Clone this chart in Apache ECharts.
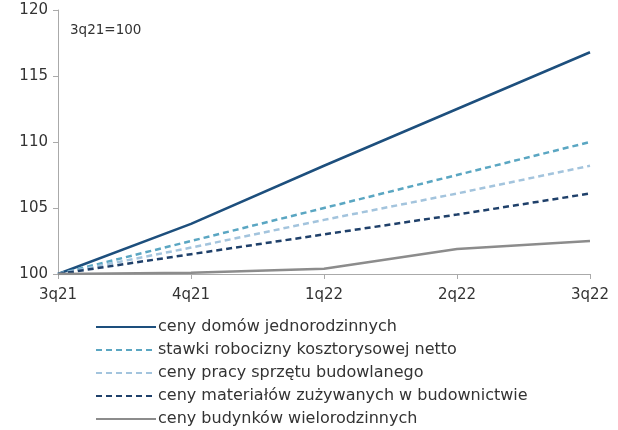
<!DOCTYPE html>
<html><head><meta charset="utf-8">
<script src="https://cdn.jsdelivr.net/npm/echarts@6/dist/echarts.min.js"></script>
<style>html,body{margin:0;padding:0;background:#fff}#c{width:618px;height:430px}</style>
</head><body><div id="c"></div>
<script>
const categories = ['3q21','4q21','1q22','2q22','3q22'];
const domyJednorodzinne = [100, 103.8, 108.2, 112.5, 116.8];
const stawkiRobocizny = [100, 102.5, 105.0, 107.5, 110.0];
const cenyPracySprzetu = [100, 102.0, 104.1, 106.1, 108.2];
const cenyMaterialow = [100, 101.5, 103.0, 104.5, 106.1];
const budynkiWielorodzinne = [100, 100.1, 100.4, 101.9, 102.5];
const seriesNames = ['ceny domów jednorodzinnych','stawki robocizny kosztorysowej netto','ceny pracy sprzętu budowlanego','ceny materiałów zużywanych w budownictwie','ceny budynków wielorodzinnych'];
const yTicks = [100,105,110,115,120];

const font = '"DejaVu Sans", sans-serif';
const chart = echarts.init(document.getElementById('c'));
function s(name, data, color, type, width) {
  return {name, type:'line', data, symbol:'none', smooth:false,
    lineStyle:{color, width, type}, itemStyle:{color}, emphasis:{disabled:true}};
}
chart.setOption({
  animation:false,
  grid:{left:58, right:28, top:10, bottom:156},
  graphic:[{type:'text', left:70, top:23, style:{text:'3q21=100', font:'13.5px '+font, fill:'#333'}}],
  xAxis:{type:'category', data:categories, boundaryGap:false,
    axisLine:{lineStyle:{color:'#aaa'}}, axisTick:{show:true, length:5, lineStyle:{color:'#aaa'}},
    axisLabel:{color:'#333', fontSize:15, fontFamily:font, margin:14}},
  yAxis:{type:'value', min:yTicks[0], max:yTicks[yTicks.length-1], interval:5,
    axisLine:{show:true, lineStyle:{color:'#aaa'}}, axisTick:{show:true, length:5, lineStyle:{color:'#aaa'}},
    splitLine:{show:false},
    axisLabel:{color:'#333', fontSize:15, fontFamily:font, margin:10}},
  legend:{orient:'vertical', left:95, top:319, padding:0, height:130, itemWidth:60, itemHeight:14, itemGap:7,
    itemStyle:{opacity:0},
    textStyle:{color:'#333', fontSize:16, lineHeight:14, fontFamily:font, padding:[0,0,0,-3]}, selectedMode:false,
    data:seriesNames},
  series:[
    s(seriesNames[0], domyJednorodzinne, '#1d4f7d', 'solid', 2.5),
    s(seriesNames[1], stawkiRobocizny, '#5aa6c2', [6,4], 2.5),
    s(seriesNames[2], cenyPracySprzetu, '#a3c4dd', [6,4], 2.5),
    s(seriesNames[3], cenyMaterialow, '#1f406a', [6,4], 2.5),
    s(seriesNames[4], budynkiWielorodzinne, '#8c8c8c', 'solid', 2.5)
  ]
});
</script></body></html>
